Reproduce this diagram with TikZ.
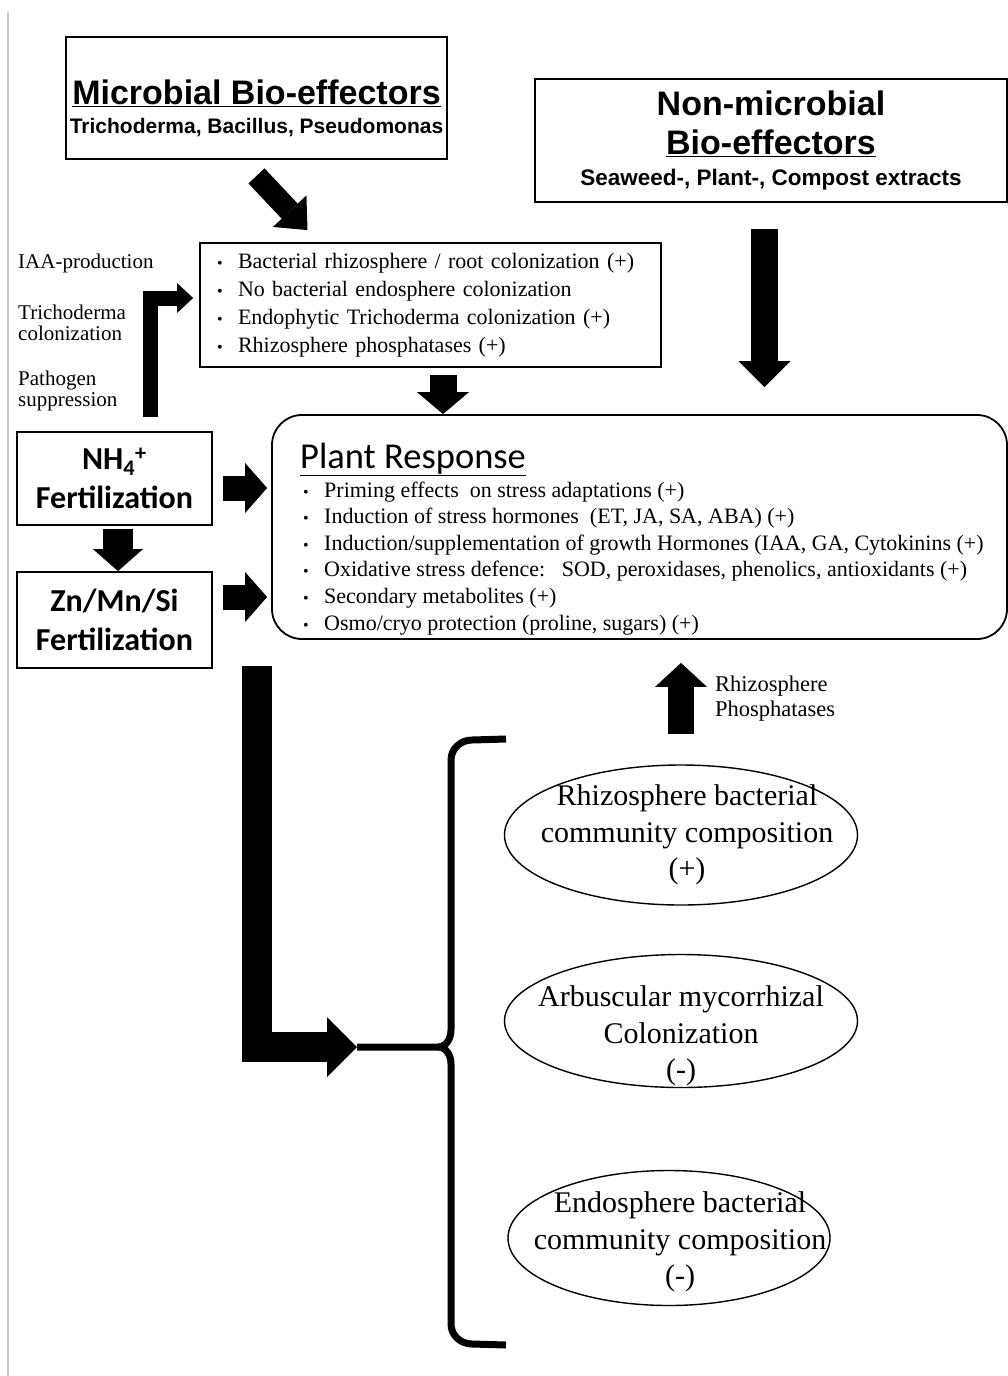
\documentclass[tikz,border=0pt]{standalone}
\usepackage{fontspec}
\setmainfont{Liberation Serif}
\newfontfamily\headfont{Liberation Sans}
\newfontfamily\calfont{Carlito}
\usetikzlibrary{arrows.meta,shapes.geometric}

\newcommand\blt{\makebox[21pt][l]{\fontsize{16}{16}\selectfont\textbullet}}

\tikzset{
  box/.style={draw, line width=1.8pt},
  fertbox/.style={box, minimum width=195pt, align=center, inner sep=0pt,
    font=\calfont\bfseries\fontsize{32}{39}\selectfont},
  oval/.style={draw, ellipse, line width=1.4pt, minimum width=353pt},
  ovaltext/.style={align=center, font=\fontsize{30}{36.5}\selectfont},
  sidenote/.style={anchor=west, align=left, inner sep=0pt, font=\fontsize{21}{20.5}\selectfont},
  fatarrow/.style n args={3}{line width=#1, -{Triangle[length=#2, width=#3, line width=0pt]}},
}

\begin{document}
\begin{tikzpicture}[x=1pt, y=-1pt]
  \useasboundingbox (0,0) rectangle (1008,1376);
  \draw[black!22, line width=1.2pt] (8,12) -- (8,1376);

  % bio-effectors
  \node[box, minimum width=381pt, minimum height=122pt,
    label={[align=center, yshift=-10pt, font=\headfont\bfseries\fontsize{34}{29}\selectfont]center:{\underline{Microbial Bio-effectors}\\ {\fontsize{21}{24}\selectfont Trichoderma, Bacillus, Pseudomonas}}}] (microbial) at (256.5,98) {};
  \node[box, minimum width=472pt, minimum height=123pt, align=center,
    font=\headfont\bfseries\fontsize{34}{39}\selectfont] (nonmicrobial) at (771,140.5)
    {Non-microbial\\ \underline{Bio-effectors}\\[-8pt] {\fontsize{22.5}{26}\selectfont Seaweed-, Plant-, Compost extracts}};

  % colonization
  \node[box, text width=427pt, inner xsep=17pt, inner ysep=0pt, minimum height=124pt, align=left,
    font=\fontsize{22}{28}\selectfont] (colonization) at (430.5,305)
    {\blt Bacterial rhizosphere / root colonization (+)\\
     \blt No bacterial endosphere colonization\\
     \blt Endophytic Trichoderma colonization (+)\\
     \blt Rhizosphere phosphatases (+)};

  % fertilization
  \node[fertbox, minimum height=93pt] (nh) at (114.5,478.5) {NH\textsubscript{4}\textsuperscript{+}\\Fertilization};
  \node[fertbox, minimum height=96pt] (zn) at (114.5,620) {Zn/Mn/Si\\Fertilization};

  % plant response
  \node[box, rounded corners=30pt, minimum width=735pt, minimum height=224pt] (plant) at (639.5,527) {};
  \node[anchor=base west, inner sep=0pt, font=\calfont\fontsize{36.5}{40}\selectfont] (planttitle) at (300,468) {\underline{Plant Response}};
  \node[anchor=north west, inner sep=0pt, align=left, font=\fontsize{22}{26.6}\selectfont] (plantlist) at (303,481.5)
    {\blt Priming effects\ \ on stress adaptations (+)\\
     \blt Induction of stress hormones\ \ (ET, JA, SA, ABA) (+)\\
     \blt Induction/supplementation of growth Hormones (IAA, GA, Cytokinins (+)\\
     \blt Oxidative stress defence:\ \ \ SOD, peroxidases, phenolics, antioxidants (+)\\
     \blt Secondary metabolites (+)\\
     \blt Osmo/cryo protection (proline, sugars) (+)};

  % side notes
  \node[sidenote] (iaa) at (18,263) {IAA-production};
  \node[sidenote] (tricho) at (18,323) {Trichoderma\\colonization};
  \node[sidenote] (pathogen) at (18,391) {Pathogen\\suppression};
  \node[sidenote, font=\fontsize{22.5}{25}\selectfont] (phos) at (715,699) {Rhizosphere\\Phosphatases};

  % soil community
  \node[oval, minimum height=140pt, label={[ovaltext, xshift=6pt]center:{Rhizosphere bacterial\\community composition\\(+)}}] (rhizo) at (681,835) {};
  \node[oval, minimum height=133pt, label={[ovaltext, yshift=-15pt]center:{Arbuscular mycorrhizal\\Colonization\\(-)}}] (amf) at (681,1021) {};
  \node[oval, minimum width=322pt, minimum height=135pt, label={[ovaltext, xshift=11pt, yshift=-4pt]center:{Endosphere bacterial\\community composition\\(-)}}] (endo) at (669,1238) {};

  % arrows
  \draw[fatarrow={22pt}{26pt}{46pt}] ([yshift=-16pt]microbial.south) -- ([xshift=-123pt,yshift=12pt]colonization.north);
  \draw[fatarrow={27pt}{26pt}{52pt}] ([xshift=-6.5pt,yshift=-26pt]nonmicrobial.south) -- ([xshift=125pt,yshift=27pt]plant.north);
  \draw[fatarrow={27pt}{22pt}{52pt}] ([xshift=12.5pt,yshift=-7pt]colonization.south) -- ([xshift=-196.5pt]plant.north);
  \draw[fatarrow={15pt}{16pt}{30pt}] ([xshift=35.5pt,yshift=14pt]nh.north) |- ([xshift=-6pt,yshift=7pt]colonization.west);
  \draw[fatarrow={30pt}{22pt}{50pt}] ([xshift=3.5pt,yshift=-3pt]nh.south) -- ([xshift=3.5pt]zn.north);
  \draw[fatarrow={25pt}{22pt}{50pt}] ([xshift=10pt,yshift=-9.5pt]nh.east) -- ([xshift=-4pt,yshift=39pt]plant.west);
  \draw[fatarrow={25pt}{22pt}{50pt}] ([xshift=10pt,yshift=23pt]zn.east) -- ([xshift=-4pt,yshift=-70pt]plant.west);
  \draw[fatarrow={26pt}{24pt}{52pt}] ([yshift=30pt]rhizo.north) -- ([xshift=41.5pt,yshift=-23pt]plant.south);

  % big arrow into the brace
  \coordinate (bracetip) at (357,1047);
  \draw[fatarrow={30pt}{30pt}{60pt}] ([xshift=-14pt,yshift=-26pt]plant.south west) |- (bracetip);
  \draw[line width=7pt, line join=round] (bracetip) -- (438,1047) to[out=0,in=-90] (451,1030) -- (451,760) to[out=90,in=180] (472,740) -- (506,739);
  \draw[line width=7pt] (438,1047) to[out=0,in=90] (451,1064) -- (451,1324) to[out=-90,in=180] (472,1344) -- (506,1345);
\end{tikzpicture}
\end{document}
